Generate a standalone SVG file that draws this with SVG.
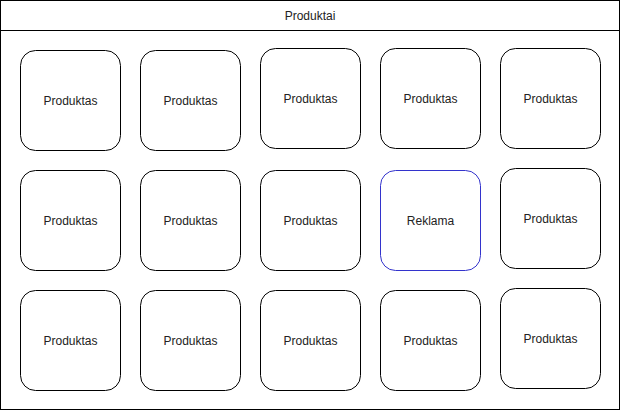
<svg xmlns="http://www.w3.org/2000/svg" width="621" height="411" viewBox="0 0 621 411">
<style>
.n{fill:#fff;stroke:#000;stroke-width:1}
.b{fill:#fff;stroke:#3333cc;stroke-width:1}
text{font-family:"Liberation Sans",Arial,sans-serif;font-size:12px;fill:#222;text-anchor:middle;dominant-baseline:central}
</style>
<rect width="621" height="411" fill="#fff"/>
<g id="container">
<rect x="0.5" y="0.5" width="619" height="409" fill="#fff" stroke="#000"/>
<line x1="0.5" y1="30.5" x2="619.5" y2="30.5" stroke="#000"/>
<text x="310" y="16">Produktai</text>
</g>
<g id="connectors"></g>
<g id="n1"><rect class="n" x="20.5" y="50.5" width="100" height="100" rx="15"/><text x="70.5" y="100.5">Produktas</text></g>
<g id="n2"><rect class="n" x="140.5" y="50.5" width="100" height="100" rx="15"/><text x="190.5" y="100.5">Produktas</text></g>
<g id="n3"><rect class="n" x="260.5" y="48.5" width="100" height="100" rx="15"/><text x="310.5" y="98.5">Produktas</text></g>
<g id="n4"><rect class="n" x="380.5" y="48.5" width="100" height="100" rx="15"/><text x="430.5" y="98.5">Produktas</text></g>
<g id="n5"><rect class="n" x="500.5" y="48.5" width="100" height="100" rx="15"/><text x="550.5" y="98.5">Produktas</text></g>
<g id="n6"><rect class="n" x="20.5" y="170.5" width="100" height="100" rx="15"/><text x="70.5" y="220.5">Produktas</text></g>
<g id="n7"><rect class="n" x="140.5" y="170.5" width="100" height="100" rx="15"/><text x="190.5" y="220.5">Produktas</text></g>
<g id="n8"><rect class="n" x="260.5" y="170.5" width="100" height="100" rx="15"/><text x="310.5" y="220.5">Produktas</text></g>
<g id="n9"><rect class="b" x="380.5" y="170.5" width="100" height="100" rx="15"/><text x="430.5" y="220.5">Reklama</text></g>
<g id="n10"><rect class="n" x="500.5" y="168.5" width="100" height="100" rx="15"/><text x="550.5" y="218.5">Produktas</text></g>
<g id="n11"><rect class="n" x="20.5" y="290.5" width="100" height="100" rx="15"/><text x="70.5" y="340.5">Produktas</text></g>
<g id="n12"><rect class="n" x="140.5" y="290.5" width="100" height="100" rx="15"/><text x="190.5" y="340.5">Produktas</text></g>
<g id="n13"><rect class="n" x="260.5" y="290.5" width="100" height="100" rx="15"/><text x="310.5" y="340.5">Produktas</text></g>
<g id="n14"><rect class="n" x="380.5" y="290.5" width="100" height="100" rx="15"/><text x="430.5" y="340.5">Produktas</text></g>
<g id="n15"><rect class="n" x="500.5" y="288.5" width="100" height="100" rx="15"/><text x="550.5" y="338.5">Produktas</text></g>
</svg>
